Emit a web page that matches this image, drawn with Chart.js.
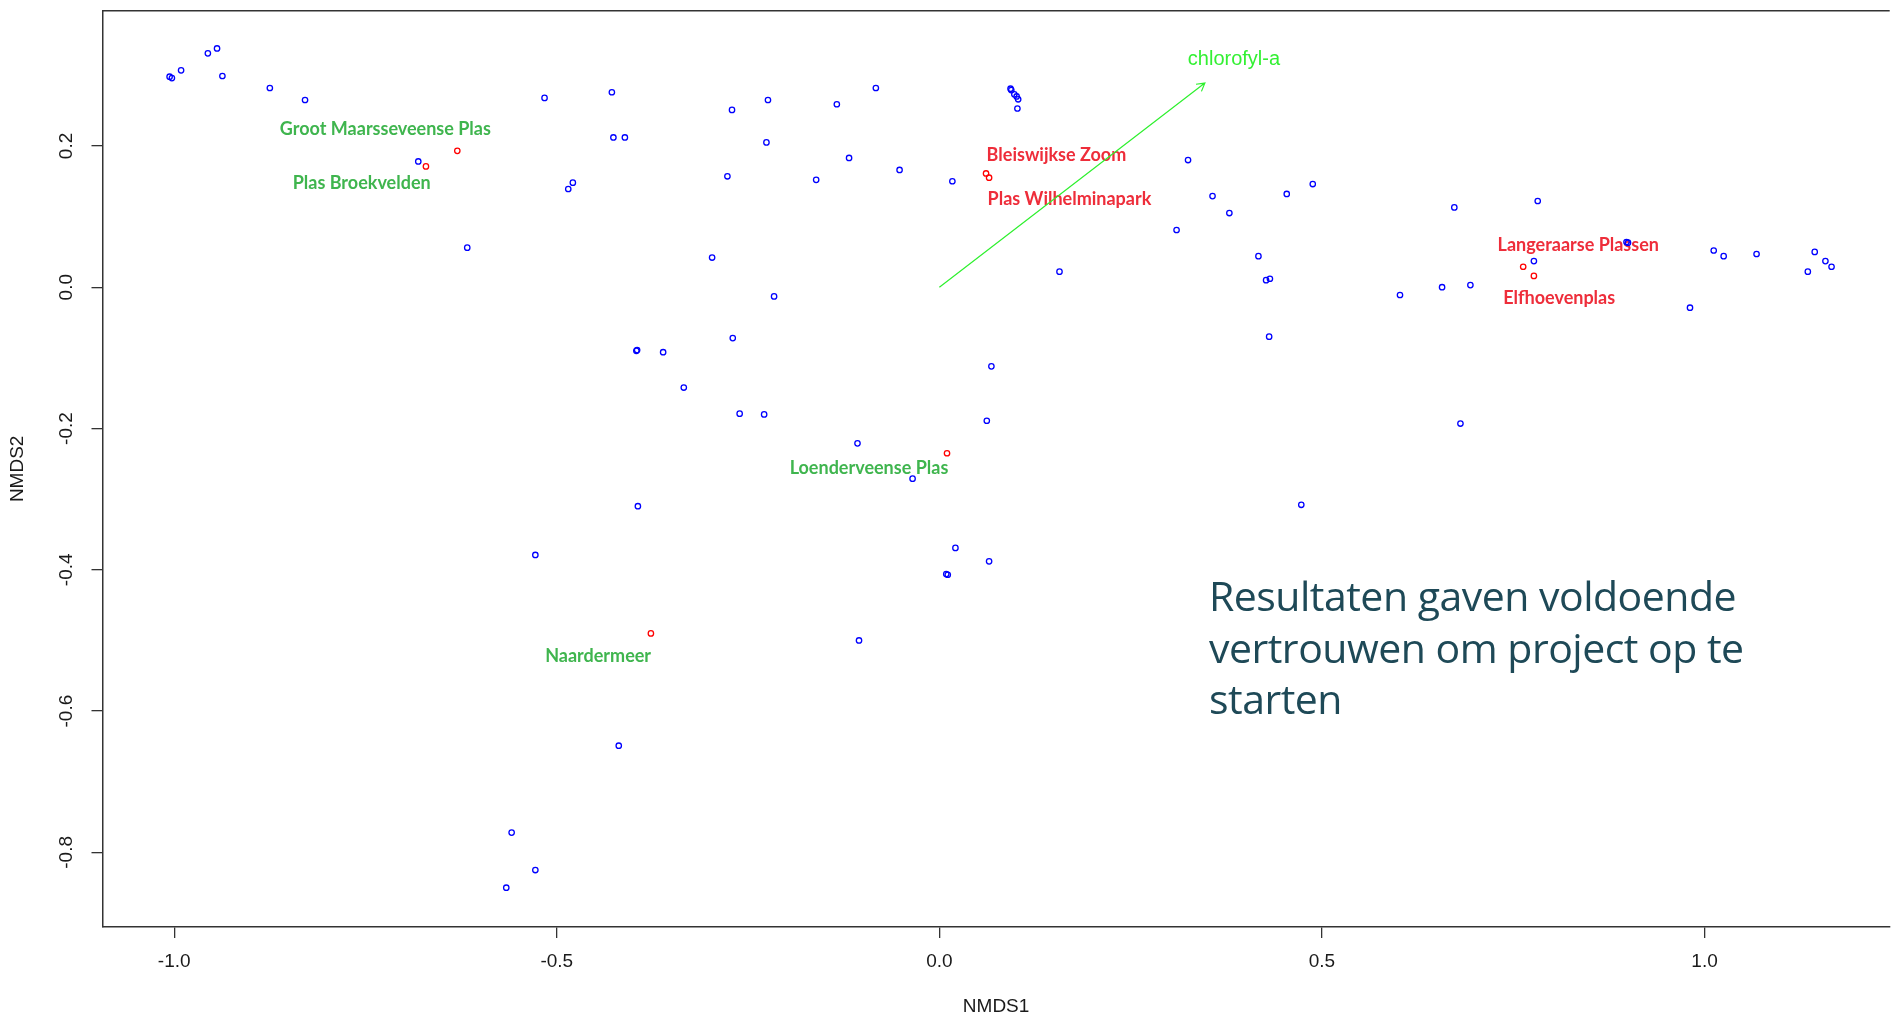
<!DOCTYPE html>
<html>
<head>
<meta charset="utf-8">
<script src="https://cdn.jsdelivr.net/npm/chart.js@4.4.0/dist/chart.umd.min.js"></script>
<style>
  html, body { margin: 0; padding: 0; background: #fff; }
  .chart_wrap { position: relative; width: 1895px; height: 1018px; }
  .note {
    position: absolute; left: 1209px; top: 570px;
    font-family: "Open Sans"; font-size: 41px; line-height: 51.5px;
    letter-spacing: -0.5px; color: #1e4957;
  }
</style>
</head>
<body>
<div class="chart_wrap">
  <canvas id="nmds"></canvas>
  <div class="note">Resultaten gaven voldoende<br>vertrouwen om project op te<br>starten</div>
</div>
<script>
"use strict";

// 🍀 data : NMDS site scores (blue)
const siteX = [-1.006, -1.003, -0.991, -0.956, -0.944, -0.937, -0.875, -0.829, -0.681, -0.617,
  -0.516, -0.485, -0.479, -0.428, -0.426, -0.411, -0.297, -0.271, -0.277, -0.224,
  -0.226, -0.216, -0.270, -0.396, -0.395, -0.361, -0.334, -0.261, -0.229, -0.161,
  -0.118, -0.134, -0.083, -0.052, 0.017, 0.093, 0.094, 0.098, 0.101, 0.103,
  0.102, 0.157, 0.068, 0.062, -0.107, -0.035, -0.394, -0.528, 0.021, 0.009,
  0.011, 0.065, -0.105, -0.419, -0.559, -0.528, -0.566, 0.325, 0.310, 0.357,
  0.379, 0.417, 0.427, 0.432, 0.454, 0.488, 0.431, 0.473, 0.602, 0.657,
  0.673, 0.694, 0.681, 0.782, 0.777, 0.898, 0.900, 0.981, 1.012, 1.025,
  1.068, 1.135, 1.144, 1.158, 1.166];
const siteY = [0.298, 0.296, 0.307, 0.331, 0.338, 0.299, 0.282, 0.265, 0.178, 0.056,
  0.268, 0.139, 0.148, 0.276, 0.212, 0.212, 0.042, 0.251, 0.157, 0.265,
  0.205, -0.013, -0.072, -0.090, -0.089, -0.092, -0.142, -0.179, -0.180, 0.152,
  0.183, 0.259, 0.282, 0.166, 0.150, 0.281, 0.279, 0.273, 0.270, 0.266,
  0.253, 0.022, -0.112, -0.189, -0.221, -0.271, -0.310, -0.379, -0.369, -0.406,
  -0.407, -0.388, -0.500, -0.649, -0.772, -0.825, -0.850, 0.180, 0.081, 0.129,
  0.105, 0.044, 0.010, 0.012, 0.132, 0.146, -0.070, -0.308, -0.011, 0.000,
  0.113, 0.003, -0.193, 0.122, 0.037, 0.064, 0.063, -0.029, 0.052, 0.044,
  0.047, 0.022, 0.050, 0.037, 0.029];

// 🍀 data : highlighted lakes (red points) and their labels
const lakeNames = ['Groot Maarsseveense Plas', 'Plas Broekvelden', 'Bleiswijkse Zoom', 'Plas Wilhelminapark',
  'Langeraarse Plassen', 'Elfhoevenplas', 'Loenderveense Plas', 'Naardermeer'];
const lakeX = [-0.630, -0.671, 0.061, 0.065, 0.763, 0.777, 0.010, -0.377];
const lakeY = [0.193, 0.171, 0.161, 0.155, 0.029, 0.016, -0.235, -0.490];
const labelX = [-0.724, -0.755, 0.153, 0.170, 0.835, 0.810, -0.092, -0.446];
const labelY = [0.224, 0.147, 0.187, 0.125, 0.060, -0.016, -0.256, -0.522];
const lakeGroup = ['good', 'good', 'bad', 'bad', 'bad', 'bad', 'good', 'good'];

// 🍀 data : environmental vector (envfit)
const arrowX = [0, 0.347];
const arrowY = [0, 0.289];
const arrowName = 'chlorofyl-a';
const arrowLabelX = 0.385;
const arrowLabelY = 0.322;

// 🍀 axes
const xTicks = [-1.0, -0.5, 0.0, 0.5, 1.0];
const yTicks = [-0.8, -0.6, -0.4, -0.2, 0.0, 0.2];
const xRange = [-1.0937, 1.242];
const yRange = [-0.9056, 0.3914];
const xTitle = 'NMDS1';
const yTitle = 'NMDS2';

const axisColor = '#333333';
const textColor = '#1a1a1a';

// 🍀 plugin : box top line, lake labels, arrow
const ordiPlot = {
  id: 'ordiPlot',
  beforeDatasetsDraw(chart) {
    const { ctx, chartArea } = chart;
    const x = chart.scales.x;
    const y = chart.scales.y;
    ctx.save();
    ctx.strokeStyle = axisColor;
    ctx.lineWidth = 1.5;
    ctx.beginPath();
    ctx.moveTo(chartArea.left, chartArea.top);
    ctx.lineTo(chartArea.right, chartArea.top);
    ctx.stroke();

    ctx.font = 'bold 18px Lato';
    ctx.textAlign = 'center';
    ctx.textBaseline = 'middle';
    lakeNames.forEach((name, i) => {
      ctx.fillStyle = lakeGroup[i] === 'good' ? '#3fb54e' : '#ee2d3a';
      ctx.fillText(name, x.getPixelForValue(labelX[i]), y.getPixelForValue(labelY[i]));
    });
    ctx.restore();
  },
  afterDatasetsDraw(chart) {
    const { ctx } = chart;
    const x = chart.scales.x;
    const y = chart.scales.y;
    const x0 = x.getPixelForValue(arrowX[0]);
    const y0 = y.getPixelForValue(arrowY[0]);
    const x1 = x.getPixelForValue(arrowX[1]);
    const y1 = y.getPixelForValue(arrowY[1]);
    const ang = Math.atan2(y1 - y0, x1 - x0);
    const head = 9;

    ctx.save();
    ctx.strokeStyle = '#2ef02e';
    ctx.lineWidth = 1.2;
    ctx.beginPath();
    ctx.moveTo(x0, y0);
    ctx.lineTo(x1, y1);
    ctx.moveTo(x1 - head * Math.cos(ang - Math.PI / 6), y1 - head * Math.sin(ang - Math.PI / 6));
    ctx.lineTo(x1, y1);
    ctx.lineTo(x1 - head * Math.cos(ang + Math.PI / 6), y1 - head * Math.sin(ang + Math.PI / 6));
    ctx.stroke();

    ctx.font = '20px "Liberation Sans"';
    ctx.fillStyle = '#33f033';
    ctx.textAlign = 'center';
    ctx.textBaseline = 'middle';
    ctx.fillText(arrowName, x.getPixelForValue(arrowLabelX), y.getPixelForValue(arrowLabelY));
    ctx.restore();
  }
};

let sitePoints = siteX.map((v, i) => ({ x: v, y: siteY[i] }));
let lakePoints = lakeX.map((v, i) => ({ x: v, y: lakeY[i] }));

let ctx = document.getElementById('nmds');

let nmdsChart = new Chart(ctx, {
  type: 'scatter',
  data: {
    datasets: [
      {
        label: 'sites',
        data: sitePoints,
        borderColor: '#0000ff',
        backgroundColor: 'rgba(0,0,0,0)',
        pointRadius: 2.7,
        borderWidth: 1.3
      },
      {
        label: 'lakes',
        data: lakePoints,
        borderColor: '#ff0000',
        backgroundColor: 'rgba(0,0,0,0)',
        pointRadius: 2.7,
        borderWidth: 1.3
      }
    ]
  },
  options: {
    responsive: true,
    maintainAspectRatio: false,
    animation: false,
    layout: { padding: { top: 10.7, right: 0, left: 0, bottom: 0 } },
    plugins: {
      legend: { display: false },
      tooltip: { enabled: false }
    },
    scales: {
      x: {
        type: 'linear',
        min: xRange[0],
        max: xRange[1],
        afterBuildTicks: s => { s.ticks = xTicks.map(v => ({ value: v })); },
        afterFit: s => { s.height = 91; s.paddingLeft = 0; s.paddingRight = 0; },
        grid: { drawOnChartArea: false, drawTicks: true, tickLength: 11, tickColor: axisColor, lineWidth: 1.3 },
        border: { display: true, color: axisColor, width: 1.5 },
        ticks: {
          padding: 12,
          color: textColor,
          font: { family: 'Liberation Sans', size: 19 },
          callback: v => v.toFixed(1),
          maxRotation: 0, minRotation: 0
        },
        title: {
          display: true, text: xTitle, color: textColor,
          font: { family: 'Liberation Sans', size: 19 },
          padding: { top: 0, bottom: 0 }
        }
      },
      y: {
        type: 'linear',
        min: yRange[0],
        max: yRange[1],
        afterBuildTicks: s => { s.ticks = yTicks.map(v => ({ value: v })); },
        afterFit: s => { s.width = 102.5; s.paddingTop = 0; s.paddingBottom = 0; },
        grid: { drawOnChartArea: false, drawTicks: true, tickLength: 11, tickColor: axisColor, lineWidth: 1.3 },
        border: { display: true, color: axisColor, width: 1.5 },
        ticks: {
          padding: 8,
          color: textColor,
          crossAlign: 'center',
          font: { family: 'Liberation Sans', size: 19 },
          callback: v => v.toFixed(1),
          minRotation: 90, maxRotation: 90
        },
        title: {
          display: true, text: yTitle, color: textColor,
          font: { family: 'Liberation Sans', size: 19 },
          padding: { top: 6, bottom: 0 }
        }
      }
    }
  },
  plugins: [ordiPlot]
});
</script>
</body>
</html>
